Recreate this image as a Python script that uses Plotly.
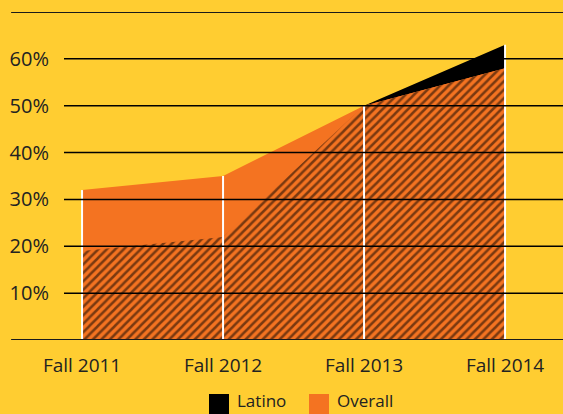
import plotly.graph_objects as go

categories = ["Fall 2011", "Fall 2012", "Fall 2013", "Fall 2014"]
latino = [19, 22, 50, 63]
overall = [32, 35, 50, 58]
y_ticks = [10, 20, 30, 40, 50, 60]
y_tick_labels = ["10%", "20%", "30%", "40%", "50%", "60%"]
series_names = ["Latino", "Overall"]

BG = "#FFCD31"
ORANGE = "#F47321"
BLACK = "#000000"
TEXT = "#222222"
FONT = "Open Sans"

overlap = [min(a, b) for a, b in zip(latino, overall)]
top = [max(a, b) for a, b in zip(latino, overall)]

fig = go.Figure()
fig.add_trace(go.Scatter(x=categories, y=latino, fill="tozeroy", mode="none",
                         fillcolor=BLACK, name="Latino", showlegend=False, hoverinfo="skip"))
fig.add_trace(go.Scatter(x=categories, y=overall, fill="tozeroy", mode="none",
                         fillcolor=ORANGE, name="Overall", showlegend=False, hoverinfo="skip"))
fig.add_trace(go.Scatter(x=categories, y=overlap, fill="tozeroy", mode="none",
                         fillpattern=dict(shape="/", bgcolor=ORANGE, fgcolor=BLACK,
                                          size=6, solidity=0.42),
                         showlegend=False, hoverinfo="skip"))
# white vertical lines at each category
vx, vy = [], []
for c, t in zip(categories, top):
    vx += [c, c, None]
    vy += [0, t, None]
fig.add_trace(go.Scatter(x=vx, y=vy, mode="lines", line=dict(color="white", width=2),
                         showlegend=False, hoverinfo="skip"))

shapes = []
for v in y_ticks:
    shapes.append(dict(type="line", xref="paper", yref="y", x0=0, x1=1, y0=v, y1=v,
                       line=dict(color=BLACK, width=1.5), layer="above"))
for v in [0, 70]:
    shapes.append(dict(type="line", xref="paper", yref="y", x0=-0.106, x1=1, y0=v, y1=v,
                       line=dict(color="#1a1a1a", width=2), layer="above"))

# legend (swatches + labels) below the chart
annotations = []
legend_colors = [BLACK, ORANGE]
legend_x = [0.2906, 0.4910]
for name, col, lx in zip(series_names, legend_colors, legend_x):
    shapes.append(dict(type="rect", xref="paper", yref="paper", x0=lx, x1=lx + 0.0401,
                       y0=-0.26, y1=-0.1646, fillcolor=col, line=dict(width=0),
                       layer="above"))
    annotations.append(dict(text=name, xref="paper", yref="paper", x=lx + 0.052,
                            y=-0.185, xanchor="left", yanchor="middle", showarrow=False,
                            font=dict(size=17, color=TEXT, family=FONT)))

fig.update_layout(
    width=563, height=414,
    margin=dict(l=64, r=0, t=12, b=74, autoexpand=False),
    paper_bgcolor=BG, plot_bgcolor=BG,
    font=dict(family=FONT, size=19, color=TEXT),
    shapes=shapes,
    annotations=annotations,
    showlegend=False,
    xaxis=dict(type="category", range=[-0.128, 3.411], showgrid=False, zeroline=False,
               showline=False, ticks="outside", ticklen=8, tickcolor="rgba(0,0,0,0)",
               tickfont=dict(size=19), automargin=False),
    yaxis=dict(range=[0, 70], tickvals=y_ticks, ticktext=y_tick_labels, showgrid=False,
               zeroline=False, showline=False, ticks="outside", ticklen=10,
               tickcolor="rgba(0,0,0,0)", tickfont=dict(size=20), automargin=False),
)

fig.write_html("out.html", config={"displayModeBar": False},
               post_script="document.body.style.margin='0';document.body.style.overflow='hidden';")
